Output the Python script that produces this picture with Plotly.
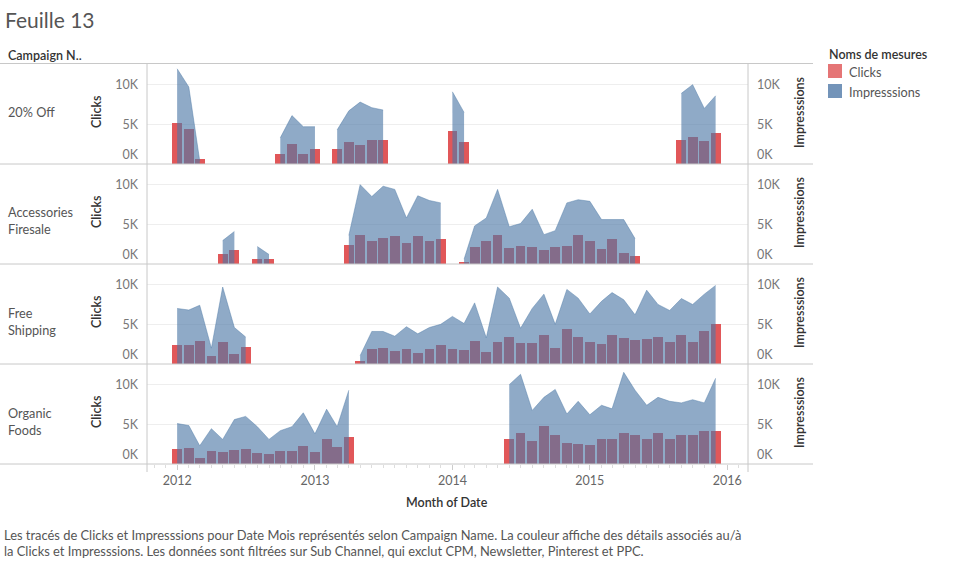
import plotly.graph_objects as go
from plotly.subplots import make_subplots
import pandas as pd

N = None
months = pd.date_range("2012-01-01", "2015-12-01", freq="MS")

campaigns = ["20% Off", "Accessories\nFiresale", "Free\nShipping", "Organic\nFoods"]

# Clicks (bars, left axis) - monthly Jan 2012 .. Dec 2015
clicks_20_off = ([5200, 4400, 600, N, N, N, N, N, N, 1300, 2500, 1300] +
                 [1900, N, 1900, 2800, 2400, 3000, 3000, N, N, N, N, N] +
                 [4200, 2800, N, N, N, N, N, N, N, N, N, N] +
                 [N, N, N, N, N, N, N, N, 3000, 3400, 2900, 3900])
clicks_accessories = ([N, N, N, N, 1300, 1800, N, 650, 650, N, N, N] +
                      [N, N, N, 2400, 3600, 2900, 3300, 3500, 2600, 3500, 2900, 3100] +
                      [N, 200, 2200, 2950, 3600, 2050, 2300, 2200, 1800, 2200, 2300, 3700] +
                      [2950, 1950, 3100, 1400, 1050, N, N, N, N, N, N, N])
clicks_free_shipping = ([2450, 2450, 2950, 1050, 2800, 1200, 2200, N, N, N, N, N] +
                        [N, N, N, N, 400, 1900, 2050, 1700, 1900, 1400, 1900, 2450] +
                        [1900, 1800, 2950, 1550, 2800, 3450, 2650, 2650, 3600, 2050, 4350, 3450] +
                        [2800, 2550, 3700, 3300, 3050, 3200, 3450, 2800, 3600, 2800, 4100, 5100])
clicks_organic = ([1950, 2050, 800, 1700, 1550, 1800, 1950, 1400, 1300, 1700, 1700, 2300] +
                  [1550, 3100, 2200, 3350, N, N, N, N, N, N, N, N] +
                  [N, N, N, N, N, 3200, 3950, 2950, 4850, 3700, 2700, 2550] +
                  [2450, 3200, 3200, 3950, 3600, 3100, 3850, 3200, 3700, 3600, 4200, 4100])

# Impresssions (area, right axis)
impr_20_off = ([12000, 9700, 400, N, N, N, N, N, N, 3300, 6100, 4700] +
               [4700, N, 4300, 6700, 7800, 7100, 6800, N, N, N, N, N] +
               [9100, 6500, N, N, N, N, N, N, N, N, N, N] +
               [N, N, N, N, N, N, N, N, 8900, 10000, 7000, 8600])
impr_accessories = ([N, N, N, N, 2950, 4100, N, 2200, 1200, N, N, N] +
                    [N, N, N, 3600, 10000, 8500, 9800, 9400, 5800, 8600, 8000, 7700] +
                    [N, 600, 4800, 5800, 9400, 4700, 5100, 6900, 3700, 4200, 7700, 8100] +
                    [7900, 5600, 5600, 5600, 3200, N, N, N, N, N, N, N])
impr_free_shipping = ([7000, 6800, 7400, 2000, 9700, 4600, 3400, N, N, N, N, N] +
                      [N, N, N, N, 1050, 4100, 4100, 3500, 4700, 3800, 4600, 5000] +
                      [6000, 5100, 7700, 3300, 9700, 8300, 4500, 7000, 8800, 5000, 9400, 8300] +
                      [6300, 7900, 9000, 8100, 6200, 9300, 7500, 6750, 8250, 7500, 8800, 9900])
impr_organic = ([5100, 4850, 2300, 4450, 3100, 5600, 6000, 4700, 3100, 4200, 4700, 6450] +
                [3800, 6900, 4700, 9300, N, N, N, N, N, N, N, N] +
                [N, N, N, N, N, 10000, 11300, 6750, 8400, 9400, 6300, 7900] +
                [6200, 7400, 6950, 11550, 9300, 7400, 8400, 7900, 7700, 8100, 7700, 10800])

clicks_rows = [clicks_20_off, clicks_accessories, clicks_free_shipping, clicks_organic]
impr_rows = [impr_20_off, impr_accessories, impr_free_shipping, impr_organic]

year_ticks = ["2012-01-01", "2013-01-01", "2014-01-01", "2015-01-01", "2016-01-01"]
year_labels = ["2012", "2013", "2014", "2015", "2016"]
y_tickvals = [1150, 5000, 10000]
y_ticktext = ["0K", "5K", "10K"]

FONT = "Lato"
W, H = 965, 561
L, R, T, B = 147, 217, 64, 97
PW, PH = W - L - R, H - T - B

def px(x):
    return (x - L) / PW

def py(y):
    return (H - B - y) / PH

RED = "#e15759"
BLUE_FILL = "rgba(78,121,167,0.63)"
BLUE_LINE = "rgba(78,121,167,0.45)"

def segments(values):
    """Split a monthly series into contiguous runs (Tableau breaks the area at missing months)."""
    runs, cur = [], []
    for i, v in enumerate(values):
        if v is None:
            if cur:
                runs.append(cur)
            cur = []
        else:
            cur.append(i)
    if cur:
        runs.append(cur)
    return runs

fig = make_subplots(rows=4, cols=1, shared_xaxes=True, vertical_spacing=0,
                    specs=[[{"secondary_y": True}] for _ in range(4)])

for r in range(4):
    fig.add_trace(go.Bar(x=months, y=clicks_rows[r], marker=dict(color=RED, line=dict(width=0)),
                         width=26 * 86400000, showlegend=False, name="Clicks"),
                  row=r + 1, col=1, secondary_y=False)
    for run in segments(impr_rows[r]):
        fig.add_trace(go.Scatter(x=[months[i] for i in run], y=[impr_rows[r][i] for i in run],
                                 mode="lines", fill="tozeroy", fillcolor=BLUE_FILL,
                                 line=dict(color=BLUE_LINE, width=1),
                                 showlegend=False, name="Impresssions"),
                      row=r + 1, col=1, secondary_y=True)

xrange = ["2011-10-13", "2016-02-25"]
for r in range(1, 5):
    fig.update_xaxes(row=r, col=1, range=xrange, domain=[0, 1], showgrid=False, zeroline=False,
                     showline=False, showticklabels=False, ticks="")
    fig.update_yaxes(row=r, col=1, secondary_y=False, range=[0, 12600], tickmode="array",
                     tickvals=y_tickvals, ticktext=y_ticktext, showgrid=False, zeroline=False,
                     showline=False, ticks="", ticklabelstandoff=8,
                     tickfont=dict(family=FONT, size=12.5, color="#777777"),
                     minor=dict(tickmode="array", tickvals=[5000, 10000], showgrid=True,
                                gridcolor="#eeeeee", gridwidth=1, ticks=""))
    fig.update_yaxes(row=r, col=1, secondary_y=True, range=[0, 12600], tickmode="array",
                     tickvals=y_tickvals, ticktext=y_ticktext, showgrid=False, zeroline=False,
                     showline=False, ticks="", ticklabelstandoff=8,
                     tickfont=dict(family=FONT, size=12.5, color="#777777"))

fig.update_xaxes(row=4, col=1, showticklabels=True, tickmode="array", tickvals=year_ticks,
                 ticktext=year_labels, ticks="outside", ticklen=5, tickcolor="#cccccc",
                 tickfont=dict(family=FONT, size=12.5, color="#666666"),
                 minor=dict(dtick="M1", ticks="outside", ticklen=3, tickcolor="#dddddd"))

shapes = []
for yy in [63.5, 164, 264, 364, 464]:
    shapes.append(dict(type="line", xref="paper", yref="paper", x0=px(0), x1=px(813),
                       y0=py(yy), y1=py(yy), line=dict(color="#c8c8c8", width=1)))
for xx in [147, 748]:
    shapes.append(dict(type="line", xref="paper", yref="paper", x0=px(xx), x1=px(xx),
                       y0=py(63.5), y1=py(472), line=dict(color="#c8c8c8", width=1)))
# legend swatches
shapes.append(dict(type="rect", xref="paper", yref="paper", x0=px(828), x1=px(842),
                   y0=py(64), y1=py(78), fillcolor="#e57576", line=dict(width=0)))
shapes.append(dict(type="rect", xref="paper", yref="paper", x0=px(828), x1=px(842),
                   y0=py(84), y1=py(98), fillcolor="#7394b9", line=dict(width=0)))

ann = []
def text(x, y, s, size=12.7, color="#555555", weight="normal", xanchor="left", angle=0):
    ann.append(dict(x=px(x), y=py(y), xref="paper", yref="paper", text=s, showarrow=False,
                    xanchor=xanchor, yanchor="middle", textangle=angle,
                    font=dict(family=FONT, size=size, color=color, weight=weight)))

text(3, 20, "Feuille 13", size=21, color="#555555")
text(6, 55, "Campaign N..", size=12.5, color="#333333", weight=600)
label_y = [[112], [212, 229], [313, 330], [413, 430]]
for r in range(4):
    for line, yy in zip(campaigns[r].split("\n"), label_y[r]):
        text(6, yy, line, color="#555555")
    cy = 112 + 100 * r
    text(96, cy, "Clicks", size=12.5, color="#333333", weight=600, xanchor="center", angle=-90)
    text(799, cy, "Impresssions", size=12.5, color="#333333", weight=600, xanchor="center", angle=-90)

text(827, 54, "Noms de mesures", size=12.5, color="#333333", weight=600)
text(847, 72, "Clicks", color="#555555")
text(847, 92, "Impresssions", color="#555555")
text(447, 502, "Month of Date", size=12.5, color="#333333", weight=600, xanchor="center")
text(2, 535, "Les tracés de Clicks et Impresssions pour Date Mois représentés selon Campaign Name. "
             "La couleur affiche des détails associés au/à", size=12.9, color="#555555")
text(2, 551, "la Clicks et Impresssions. Les données sont filtrées sur Sub Channel, qui exclut CPM, "
             "Newsletter, Pinterest et PPC.", size=12.9, color="#555555")

fig.update_layout(width=W, height=H, margin=dict(l=L, r=R, t=T, b=B, autoexpand=False),
                  paper_bgcolor="white", plot_bgcolor="white", bargap=0, barmode="overlay",
                  showlegend=False, shapes=shapes, annotations=ann,
                  font=dict(family=FONT, size=12, color="#555555"))

fig.write_html("out.html", config={"displayModeBar": False},
               post_script="document.body.style.margin='0px';")
